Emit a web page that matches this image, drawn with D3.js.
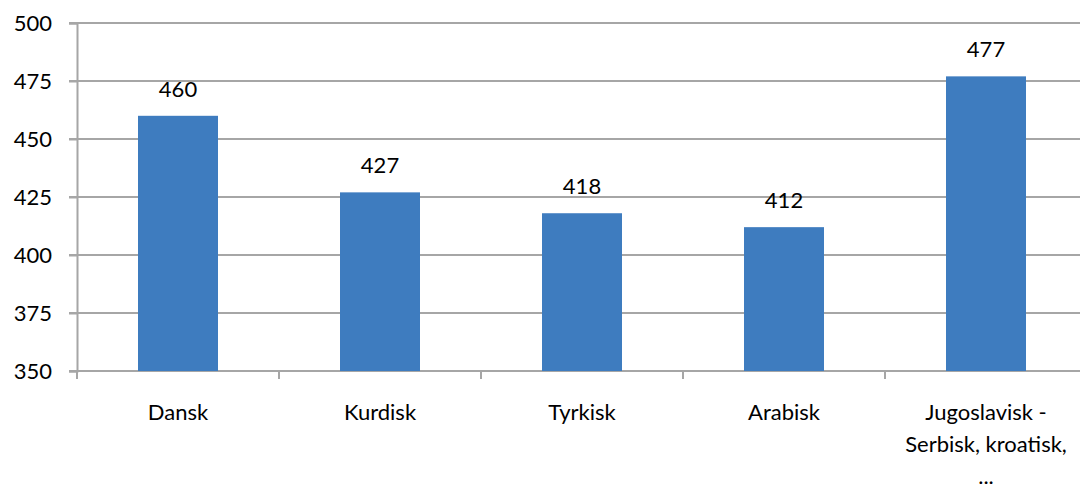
<!DOCTYPE html>
<html>
<head>
  <meta charset="utf-8">
  <script src="https://d3js.org/d3.v7.min.js"></script>
  <style>
    body { margin: 0; background: #fff; }
    svg text { font-family: Lato, "Open Sans", sans-serif; fill: #000; }
  </style>
</head>
<body>
<script>
  // chart data
  var categories = ["Dansk", "Kurdisk", "Tyrkisk", "Arabisk", "Jugoslavisk - Serbisk, kroatisk, ..."];
  var labelLines = [["Dansk"], ["Kurdisk"], ["Tyrkisk"], ["Arabisk"], ["Jugoslavisk -", "Serbisk, kroatisk,", "..."]];
  var values = [460, 427, 418, 412, 477];
  var yTicks = [350, 375, 400, 425, 450, 475, 500];

  var W = 1080, H = 487;
  var plotLeft = 77, plotRight = 1087, plotTop = 23, plotBottom = 371;

  var svg = d3.select("body").append("svg")
      .attr("width", W).attr("height", H);

  var x = d3.scaleBand()
      .domain(categories)
      .range([plotLeft, plotRight])
      .paddingInner(0.604)
      .paddingOuter(0.302);

  var y = d3.scaleLinear()
      .domain([350, 500])
      .range([plotBottom, plotTop]);

  // gridlines
  svg.append("g").selectAll("line")
      .data(yTicks)
      .enter().append("line")
      .attr("x1", plotLeft - 8).attr("x2", W)
      .attr("y1", function(d) { return y(d); })
      .attr("y2", function(d) { return y(d); })
      .attr("stroke", "#a6a6a6")
      .attr("stroke-width", 2);

  // y axis
  var yAxis = svg.append("g")
      .attr("transform", "translate(" + plotLeft + ",0)")
      .call(d3.axisLeft(y).tickValues(yTicks).tickSize(8).tickPadding(17));
  yAxis.select(".domain").attr("stroke", "#a6a6a6").attr("stroke-width", 2);
  yAxis.selectAll(".tick line").attr("stroke", "#a6a6a6").attr("stroke-width", 2);
  yAxis.selectAll(".tick text").style("font-size", "22px").attr("fill", "#000");

  // bars
  svg.append("g").selectAll("rect")
      .data(values)
      .enter().append("rect")
      .attr("x", function(d, i) { return x(categories[i]); })
      .attr("y", function(d) { return y(d); })
      .attr("width", x.bandwidth())
      .attr("height", function(d) { return plotBottom - y(d); })
      .attr("fill", "#3e7cbf");

  // value labels
  svg.append("g").selectAll("text")
      .data(values)
      .enter().append("text")
      .attr("x", function(d, i) { return x(categories[i]) + x.bandwidth() / 2; })
      .attr("y", function(d) { return y(d) - 19; })
      .attr("text-anchor", "middle")
      .style("font-size", "22px")
      .text(function(d) { return d; });

  // category ticks between bands
  var step = x.step();
  var edges = categories.map(function(c) { return x(c) - (step - x.bandwidth()) / 2; });
  edges.push(plotRight);
  svg.append("g").selectAll("line")
      .data(edges)
      .enter().append("line")
      .attr("x1", function(d) { return d; }).attr("x2", function(d) { return d; })
      .attr("y1", plotBottom).attr("y2", plotBottom + 8)
      .attr("stroke", "#a6a6a6")
      .attr("stroke-width", 2);

  // category labels
  var cat = svg.append("g").selectAll("text")
      .data(labelLines)
      .enter().append("text")
      .attr("text-anchor", "middle")
      .attr("x", function(d, i) { return x(categories[i]) + x.bandwidth() / 2; })
      .attr("y", 420)
      .style("font-size", "22px");
  cat.selectAll("tspan")
      .data(function(d) { return d; })
      .enter().append("tspan")
      .attr("x", function() { return d3.select(this.parentNode).attr("x"); })
      .attr("dy", function(d, i) { return i === 0 ? 0 : 32; })
      .text(function(d) { return d; });
</script>
</body>
</html>
